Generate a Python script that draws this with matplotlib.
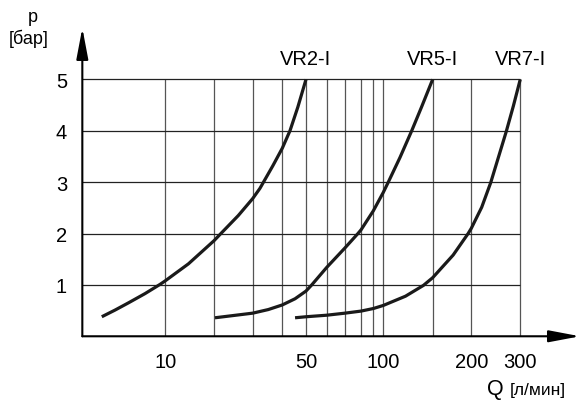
import numpy as np
import matplotlib
matplotlib.use("Agg")
import matplotlib.pyplot as plt

plt.rcParams['font.family'] = ['Liberation Sans', 'DejaVu Sans']

# chart data: flow Q [l/min] vs pressure p [bar]
vr2_q = [4.07, 4.91, 5.93, 7.5, 9.28, 10, 13.9, 20, 21.5, 25.8, 30, 32.2, 33.7,
         36.5, 40, 43.0, 46.3, 50]
vr2_p = [0.38, 0.51, 0.65, 0.83, 1.01, 1.08, 1.41, 1.86, 2.0, 2.35, 2.68, 2.88, 3.04,
         3.32, 3.66, 4.0, 4.46, 5.0]

vr5_q = [20.2, 30, 34.9, 40, 45.1, 50, 52.6, 60, 70, 78, 80, 90, 100, 104.2,
         114.7, 126.3, 137.1, 150]
vr5_p = [0.36, 0.45, 0.52, 0.61, 0.73, 0.88, 1.0, 1.34, 1.72, 2.0, 2.07, 2.44, 2.80,
         3.0, 3.48, 4.0, 4.47, 5.0]

vr7_q = [45.1, 50, 60, 70, 80, 90, 100, 120, 139, 150, 174.7, 195.4, 200, 218,
         234.9, 267, 283.3, 300]
vr7_p = [0.36, 0.38, 0.41, 0.45, 0.49, 0.54, 0.6, 0.78, 0.99, 1.14, 1.58, 2.0, 2.1,
         2.51, 2.99, 3.98, 4.48, 5.0]

curves = [("VR2-I", vr2_q, vr2_p), ("VR5-I", vr5_q, vr5_p), ("VR7-I", vr7_q, vr7_p)]

grid_q = [10, 20, 30, 40, 50, 60, 70, 80, 90, 100, 150, 200, 300]
grid_p = [1, 2, 3, 4, 5]
xtick_vals = [10, 50, 100, 200, 300]
xtick_labels = ["10", "50", "100", "200", "300"]

# the drawing uses a hand-made, roughly logarithmic Q axis
scale_q = [3, 10, 20, 30, 40, 50, 60, 70, 80, 90, 100, 150, 200, 300, 500]
scale_u = [80.2, 165.3, 214, 252.7, 282.3, 306, 326.7, 345, 361, 373.3, 383.3,
           432.7, 471.3, 520.3, 582]
log_q = np.log10(scale_q)


def forward(q):
    q = np.clip(np.asarray(q, dtype=float), 1e-3, None)
    return np.interp(np.log10(q), log_q, scale_u)


def inverse(u):
    return 10 ** np.interp(np.asarray(u, dtype=float), scale_u, log_q)


fig = plt.figure(figsize=(5.81, 4.02), dpi=100)
ax = fig.add_axes([0.1417, 0.161, 0.8566, 0.767])
ax.set_xscale('function', functions=(forward, inverse))
ax.set_xlim(3.09, 492)
ax.set_ylim(0, 6)

# grid
ax.vlines(grid_q, 0, 5, color='#555555', lw=0.9, zorder=1)
ax.hlines(grid_p, 3.09, 300, color='#222222', lw=0.9, zorder=1)

for name, q, p in curves:
    ax.plot(q, p, color='#1a1a1a', lw=2.3, solid_capstyle='butt',
            solid_joinstyle='round', zorder=3)
    ax.annotate(name, xy=(q[-1], p[-1]), xytext=(0, 8), textcoords='offset points',
                ha='center', va='bottom', fontsize=14.5)

for s in ax.spines.values():
    s.set_visible(False)

arrow = dict(arrowstyle='-|>,head_length=1.9,head_width=0.36', lw=1.5,
             color='black', shrinkA=0, shrinkB=0)
ax.annotate('', xy=(1, 0), xytext=(0, 0), xycoords='axes fraction',
            textcoords='axes fraction', arrowprops=arrow, annotation_clip=False)
ax.annotate('', xy=(0, 1), xytext=(0, 0), xycoords='axes fraction',
            textcoords='axes fraction', arrowprops=arrow, annotation_clip=False)

ax.set_xticks(xtick_vals)
ax.set_xticklabels(xtick_labels)
ax.minorticks_off()
ax.set_yticks(grid_p)
ax.tick_params(axis='x', length=0, pad=11, labelsize=14.5)
ax.tick_params(axis='y', length=0, pad=11, labelsize=14.5)

fig.text(33 / 581, 1 - 17 / 402, "p", ha='center', va='center', fontsize=13)
fig.text(29 / 581, 1 - 39 / 402, "[бар]", ha='center', va='center', fontsize=13)
fig.text(487 / 581, 1 - 390 / 402, "Q", ha='left', va='center', fontsize=15.5)
fig.text(510 / 581, 1 - 391 / 402, "[л/мин]", ha='left', va='center', fontsize=12.5)

fig.savefig("out.png", dpi=100)
